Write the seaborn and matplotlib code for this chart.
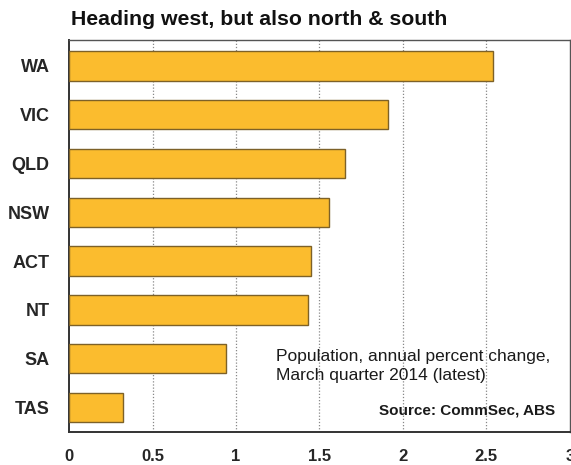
import matplotlib
matplotlib.use("Agg")
import matplotlib.pyplot as plt
import seaborn as sns
import pandas as pd
import numpy as np

states = ["WA", "VIC", "QLD", "NSW", "ACT", "NT", "SA", "TAS"]
values = [2.54, 1.91, 1.65, 1.56, 1.45, 1.43, 0.94, 0.32]
xticks = [0, 0.5, 1, 1.5, 2, 2.5, 3]
xticklabels = ["0", "0.5", "1", "1.5", "2", "2.5", "3"]

sns.set_style("white")
plt.rcParams["font.family"] = ["Liberation Sans", "DejaVu Sans"]

df = pd.DataFrame({"state": states, "value": values})

fig = plt.figure(figsize=(5.71, 4.65), dpi=100)
ax = fig.add_axes([0.121, 0.071, 0.877, 0.843])

sns.barplot(data=df, x="value", y="state", orient="h", ax=ax,
            color="#FBBC2E", saturation=1, width=0.6,
            edgecolor="#7d6128", linewidth=1.0, zorder=3)

ax.set_xlim(0, 3)
ax.set_ylim(len(states) - 0.5, -0.53)
ax.set_xlabel("")
ax.set_ylabel("")

# dotted vertical gridlines
for xv in xticks[1:-1]:
    ax.axvline(xv, color="#888888", linestyle=(0, (1, 1.5)), linewidth=0.9, zorder=1)

ax.set_xticks(xticks)
ax.set_xticklabels(xticklabels, fontsize=12, fontweight="bold")
ax.tick_params(axis="x", length=0, pad=12)

ax.set_yticks(range(len(states)))
ax.set_yticklabels(states, fontsize=13, fontweight="bold")
ax.tick_params(axis="y", length=0, pad=14)
ax.set_yticks(np.arange(0.5, len(states) - 0.5, 1), minor=True)
ax.tick_params(axis="y", which="minor", direction="in", length=5, width=1, color="#556070")

for side in ["left", "bottom"]:
    ax.spines[side].set_color("#333333")
    ax.spines[side].set_linewidth(1.4)
for side in ["top", "right"]:
    ax.spines[side].set_color("#555555")
    ax.spines[side].set_linewidth(1.0)

fig.text(0.124, 0.958, "Heading west, but also north & south", fontsize=15.3,
         fontweight="bold", ha="left", va="center", color="#111111")

ax.text(0.413, 0.168, "Population, annual percent change,\nMarch quarter 2014 (latest)",
        transform=ax.transAxes, fontsize=12.5, ha="left", va="center",
        linespacing=1.3, color="#1a1a1a", zorder=4)
ax.text(0.97, 0.055, "Source: CommSec, ABS", transform=ax.transAxes,
        fontsize=11, fontweight="bold", ha="right", va="center", color="#1a1a1a", zorder=4)

fig.savefig("out.png", dpi=100)
